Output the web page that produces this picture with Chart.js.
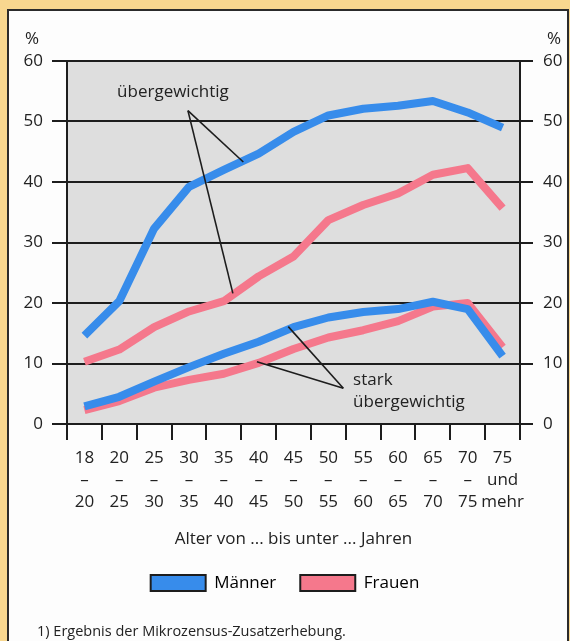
<!DOCTYPE html>
<html>
<head>
<meta charset="utf-8">
<script src="https://cdn.jsdelivr.net/npm/chart.js@4.4.1/dist/chart.umd.min.js"></script>
<style>
    html, body { margin: 0; padding: 0; }
    body {
        width: 570px; height: 641px; position: relative; overflow: hidden;
        background: #f8d78f; font-family: "Open Sans", sans-serif; color: #222;
    }
    #panel {
        position: absolute; left: 7px; top: 9px; width: 558px; height: 640px;
        background: #fdfdfd; border: 2px solid #2b2b2b; border-bottom: none;
    }
    #wrap { position: absolute; left: 0; top: 0; width: 570px; height: 641px; }
    #note { position: absolute; left: 37px; top: 621px; font-size: 14.5px; color: #222; }
</style>
</head>
<body>
<div id="panel"></div>
<div id="wrap"><canvas id="chart"></canvas></div>
<div id="note">1) Ergebnis der Mikrozensus-Zusatzerhebung.</div>

<script>
// Altersgruppen (Kategorien) und Tick-Beschriftungen
var ageGroups = [
    ["18", "–", "20"], ["20", "–", "25"], ["25", "–", "30"], ["30", "–", "35"],
    ["35", "–", "40"], ["40", "–", "45"], ["45", "–", "50"], ["50", "–", "55"],
    ["55", "–", "60"], ["60", "–", "65"], ["65", "–", "70"], ["70", "–", "75"],
    ["75", "und", "mehr"]
];
var yTicks = [0, 10, 20, 30, 40, 50, 60];

// Werte in %
var menOverweight    = [14.6, 20.3, 32.3, 39.2, 42.0, 44.7, 48.3, 51.0, 52.1, 52.6, 53.4, 51.5, 49.0];
var menObese         = [2.9, 4.5, 7.0, 9.4, 11.6, 13.6, 16.0, 17.6, 18.5, 19.0, 20.2, 19.0, 11.2];
var womenOverweight  = [10.3, 12.3, 16.0, 18.6, 20.3, 24.4, 27.7, 33.7, 36.2, 38.1, 41.2, 42.3, 35.7];
var womenObese       = [2.3, 3.8, 6.0, 7.3, 8.3, 10.1, 12.4, 14.3, 15.5, 17.0, 19.4, 20.0, 12.7];

var BLUE = "#378ceb";
var PINK = "#f5788c";
var INK = "#1d1d1d";
var FONT = "'Open Sans', sans-serif";
var FS = 17;

// Beschriftungen mit Hinweislinien (Kategorie-Index, Wert)
var noteOverweight = { text: ["übergewichtig"], at: [2.54, 54.9], apex: [2.97, 51.8],
    ends: [[4.56, 43.3], [4.26, 21.6]], align: "center" };
var noteObese = { text: ["stark", "übergewichtig"], at: [7.71, 7.27], apex: [7.43, 5.9],
    ends: [[5.85, 16.1], [4.95, 10.3]], align: "left" };

var plotBackground = {
    id: "plotBackground",
    beforeDraw: function (chart) {
        var a = chart.chartArea, ctx = chart.ctx;
        ctx.save();
        ctx.fillStyle = "#dedede";
        ctx.fillRect(a.left, a.top, a.right - a.left, a.bottom - a.top);
        ctx.restore();
    }
};

var notes = {
    id: "notes",
    afterDatasetsDraw: function (chart) {
        var ctx = chart.ctx, x = chart.scales.x, y = chart.scales.y;
        ctx.save();
        [noteOverweight, noteObese].forEach(function (n) {
            var ax = x.getPixelForValue(n.apex[0]), ay = y.getPixelForValue(n.apex[1]);
            ctx.strokeStyle = INK;
            ctx.lineWidth = 1.6;
            n.ends.forEach(function (e) {
                ctx.beginPath();
                ctx.moveTo(ax, ay);
                ctx.lineTo(x.getPixelForValue(e[0]), y.getPixelForValue(e[1]));
                ctx.stroke();
            });
            ctx.fillStyle = "#222";
            ctx.font = FS + "px " + FONT;
            ctx.textAlign = n.align;
            ctx.textBaseline = "middle";
            var tx = x.getPixelForValue(n.at[0]), ty = y.getPixelForValue(n.at[1]);
            n.text.forEach(function (t, i) {
                ctx.fillText(t, tx, ty + i * 22);
            });
        });
        ctx.restore();
    },
    afterDraw: function (chart) {
        var ctx = chart.ctx, y = chart.scales.y;
        var top = y.getPixelForValue(60);
        ctx.save();
        ctx.fillStyle = "#222";
        ctx.font = FS + "px " + FONT;
        ctx.textAlign = "center";
        ctx.textBaseline = "middle";
        ctx.fillText("%", 32, top - 22);
        ctx.fillText("%", 554, top - 22);
        ctx.restore();
    }
};

function lineSet(label, data, color) {
    return {
        label: label,
        data: data,
        borderColor: color,
        backgroundColor: color,
        borderWidth: 8,
        pointRadius: 0,
        tension: 0,
        borderJoinStyle: "round",
        fill: false
    };
}

var ctx = document.getElementById("chart").getContext("2d");
new Chart(ctx, {
    type: "line",
    data: {
        labels: ageGroups,
        datasets: [
            lineSet("Männer übergewichtig", menOverweight, BLUE),
            lineSet("Männer stark übergewichtig", menObese, BLUE),
            lineSet("Frauen übergewichtig", womenOverweight, PINK),
            lineSet("Frauen stark übergewichtig", womenObese, PINK)
        ]
    },
    plugins: [plotBackground, notes],
    options: {
        responsive: true,
        maintainAspectRatio: false,
        animation: false,
        layout: { padding: { top: 61, left: 0, right: 0, bottom: 39.5 } },
        plugins: {
            tooltip: { enabled: false },
            legend: {
                display: true,
                position: "bottom",
                labels: {
                    boxWidth: 55,
                    boxHeight: 16,
                    padding: 24,
                    color: "#222",
                    font: { family: FONT, size: FS },
                    generateLabels: function () {
                        return [
                            { text: "Männer", fillStyle: BLUE, strokeStyle: INK, lineWidth: 2, hidden: false, datasetIndex: 0 },
                            { text: "Frauen", fillStyle: PINK, strokeStyle: INK, lineWidth: 2, hidden: false, datasetIndex: 2 }
                        ];
                    }
                }
            }
        },
        scales: {
            x: {
                type: "category",
                offset: true,
                grid: { offset: true, drawOnChartArea: false, drawTicks: true, tickLength: 16, color: INK, lineWidth: 2 },
                border: { display: true, color: INK, width: 2 },
                ticks: {
                    autoSkip: false, maxRotation: 0, padding: 7,
                    color: "#222", font: { family: FONT, size: FS, lineHeight: 1.3 }
                },
                title: {
                    display: true, text: "Alter von ... bis unter ... Jahren",
                    color: "#222", font: { family: FONT, size: FS }, padding: { top: 0, bottom: 1 }
                },
                afterFit: function (s) { s.height = 126.5; }
            },
            y: {
                position: "left",
                min: 0, max: 60,
                afterBuildTicks: function (s) { s.ticks = yTicks.map(function (v) { return { value: v }; }); },
                grid: { color: INK, lineWidth: 2, drawTicks: true, tickLength: 15 },
                border: { display: true, color: INK, width: 2 },
                ticks: { padding: 9, color: "#222", font: { family: FONT, size: FS } },
                afterFit: function (s) { s.width = 67; }
            },
            y2: {
                position: "right",
                min: 0, max: 60,
                afterBuildTicks: function (s) { s.ticks = yTicks.map(function (v) { return { value: v }; }); },
                grid: { drawOnChartArea: false, color: INK, lineWidth: 2, drawTicks: true, tickLength: 13 },
                border: { display: true, color: INK, width: 2 },
                ticks: { padding: 10, color: "#222", font: { family: FONT, size: FS } },
                afterFit: function (s) { s.width = 50; }
            }
        }
    }
});
</script>
</body>
</html>
